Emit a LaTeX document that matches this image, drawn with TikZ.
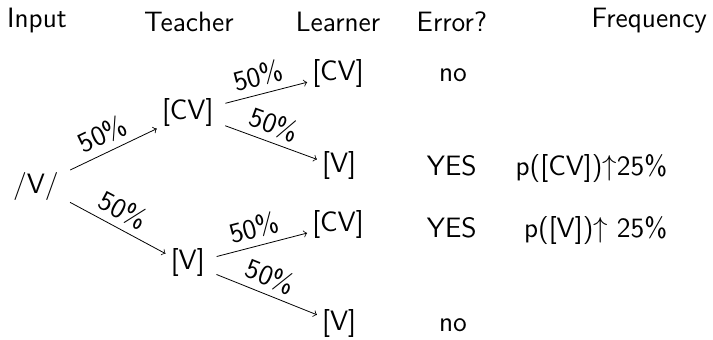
\documentclass[tikz,border=0pt]{standalone}
\usepackage{amsmath}
\usepackage{tikz}

\tikzset{
	head/.style={anchor=base},
	col/.style={anchor=base},
	freq/.style={anchor=base east},
	pct/.style={midway,above,sloped},
	branch/.style={->,shorten <=2.5pt,shorten >=-1pt}
}

\begin{document}
\begin{tikzpicture}[font=\fontsize{14}{17}\selectfont\sffamily]
	\useasboundingbox (0,0) rectangle (12.53,-5.96);

	\node[head](Input) at (0.65,-0.49){Input};
	\node[head](Teacher) at (3.32,-0.56){Teacher};
	\node[head](Learner) at (5.94,-0.56){Learner};
	\node[head](Error) at (7.94,-0.56){Error?};
	\node[head](Freq) at (11.41,-0.49){Frequency};

	\node(In) at (0.63,-3.27){/V/};
	\node(TCV) at (3.30,-1.97){[CV]};
	\node(TV) at (3.30,-4.62){[V]};
	\node(LCVa) at (5.94,-1.30){[CV]};
	\node(LVa) at (5.96,-2.91){[V]};
	\node(LCVb) at (5.94,-3.95){[CV]};
	\node(LVb) at (5.96,-5.69){[V]};

	\draw[branch]  (In.25)->(TCV.208) node[pct]{50\%};
	\draw[branch]  (In.-25)->(TV.157) node[pct]{50\%};
	\draw[branch]  (TCV.13)->(LCVa.195) node[pct]{50\%};
	\draw[branch]  (TCV.-20)->(LVa.164) node[pct]{50\%};
	\draw[branch]  (TV.12)->(LCVb.195) node[pct]{50\%};
	\draw[branch]  (TV.-22)->(LVb.158) node[pct]{50\%};

	\node[col](NoA) at (7.96,-1.44){no};
	\node[col](YesA) at (7.94,-3.09){YES};
	\node[col](YesB) at (7.94,-4.17){YES};
	\node[col](NoB) at (7.96,-5.83){no};

	\node[freq](FreqA) at (11.85,-3.09){p([CV])$\uparrow$25\%};
	\node[freq](FreqB) at (11.85,-4.17){p([V])$\uparrow$ 25\%};
\end{tikzpicture}
\end{document}
